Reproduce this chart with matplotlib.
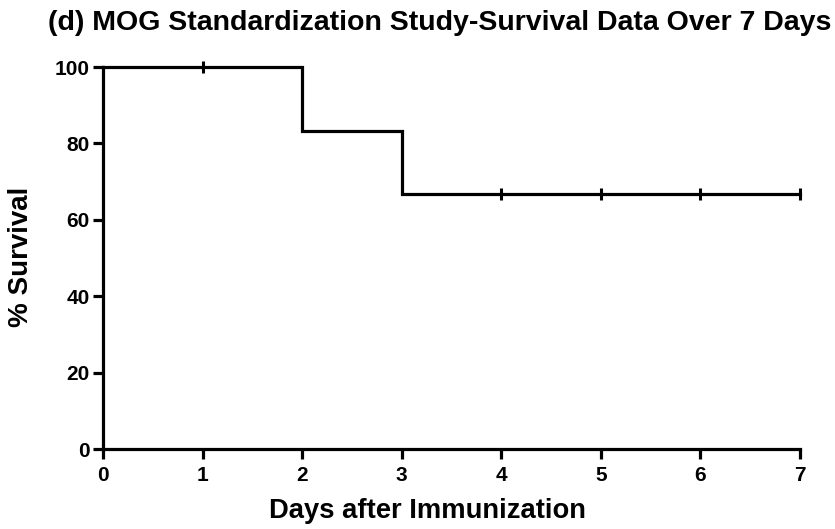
import matplotlib
matplotlib.use("Agg")
import matplotlib.pyplot as plt

# Kaplan-Meier survival estimate (percent) over the 7-day follow-up
step_days = [0, 2, 3, 7]
step_survival = [100.0, 83.33, 66.67, 66.67]

# censored observations
censor_days = [1, 4, 5, 6, 7]
censor_survival = [100.0, 66.67, 66.67, 66.67, 66.67]

x_ticks = [0, 1, 2, 3, 4, 5, 6, 7]
y_ticks = [0, 20, 40, 60, 80, 100]

plt.rcParams['font.family'] = ['Liberation Sans', 'DejaVu Sans']
plt.rcParams['font.weight'] = 'bold'

fig = plt.figure(figsize=(8.35, 5.29), dpi=100)
ax = fig.add_axes([0.1234, 0.1512, 0.8347, 0.7221])

ax.step(step_days, step_survival, where='post', color='black', lw=2.3,
        solid_joinstyle='miter', clip_on=False, zorder=3)
ax.plot(censor_days, censor_survival, ls='none', marker='|', color='black',
        markersize=8, mew=2.2, clip_on=False, zorder=4)

ax.set_xlim(0, 7)
ax.set_ylim(0, 100)
ax.set_xticks(x_ticks)
ax.set_yticks(y_ticks)

for side in ('top', 'right'):
    ax.spines[side].set_visible(False)
for side in ('left', 'bottom'):
    ax.spines[side].set_linewidth(2.3)

ax.tick_params(axis='both', direction='out', length=7, width=2.3, labelsize=15)
ax.tick_params(axis='y', pad=2.5)
ax.tick_params(axis='x', pad=5)
for lab in ax.get_xticklabels() + ax.get_yticklabels():
    lab.set_fontweight('bold')

fig.text(0.512, 0.034, 'Days after Immunization', fontsize=19.7,
         fontweight='bold', ha='center', va='center')
fig.text(0.025, 0.514, '% Survival', fontsize=20, fontweight='bold',
         ha='center', va='center', rotation=90)
fig.text(0.0575, 0.957, '(d) MOG Standardization Study-Survival Data Over 7 Days',
         fontsize=20.5, fontweight='bold', ha='left', va='center')

fig.savefig('out.png', dpi=100)
